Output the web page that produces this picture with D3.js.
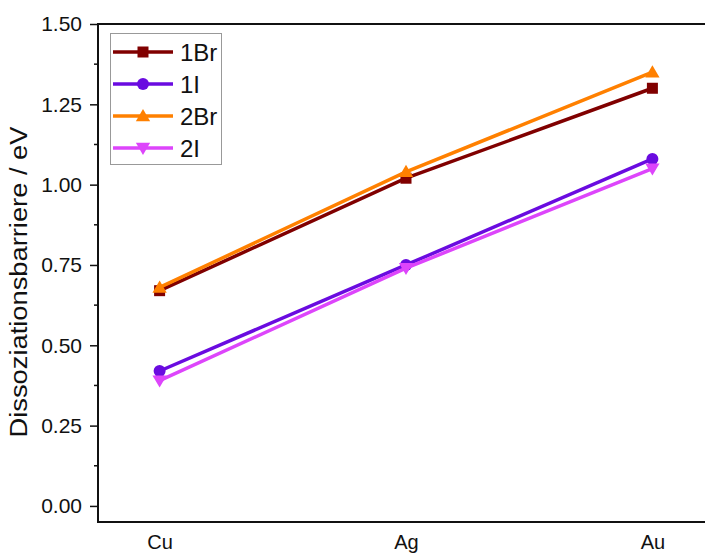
<!DOCTYPE html>
<html>
<head>
<meta charset="utf-8">
<script src="https://cdn.jsdelivr.net/npm/d3@7"></script>
<style>
  body { margin: 0; background: #fff; overflow: hidden; }
  text { font-family: "Liberation Sans", Arial, sans-serif; fill: #111; }
</style>
</head>
<body>
<div></div>
<script>
var outerWidth  = 705;
var outerHeight = 553;
var margin = { left: 98, top: 24, right: -9, bottom: 31 };

var metals = ["Cu", "Ag", "Au"];
var seriesNames = ["1Br", "1I", "2Br", "2I"];
var values1Br = [0.67, 1.02, 1.30];
var values1I  = [0.42, 0.75, 1.08];
var values2Br = [0.68, 1.04, 1.35];
var values2I  = [0.39, 0.74, 1.05];
var yTicks = [0, 0.25, 0.5, 0.75, 1.0, 1.25, 1.5];
var yMinor = [0.125, 0.375, 0.625, 0.875, 1.125, 1.375];

var colors  = ["#800000", "#6a0be0", "#ff8000", "#dd45fb"];
var symbols = ["square", "circle", "up", "down"];
var allValues = [values1Br, values1I, values2Br, values2I];

var innerWidth  = outerWidth  - margin.left - margin.right;
var innerHeight = outerHeight - margin.top  - margin.bottom;

var svg = d3.select("div").append("svg")
  .attr("width",  outerWidth)
  .attr("height", outerHeight)
  .style("display", "block");

var g = svg.append("g")
  .attr("transform", "translate(" + margin.left + "," + margin.top + ")");

var xScale = d3.scalePoint().domain(metals).range([0, innerWidth]).padding(0.25);
var yScale = d3.scaleLinear().domain([-0.05, 1.5]).range([innerHeight, 0]);

// axes
var yAxis = d3.axisLeft(yScale).tickValues(yTicks)
  .tickFormat(d3.format(".2f")).tickSize(8).tickPadding(8);
var yg = g.append("g").call(yAxis);
yg.select(".domain").remove();
yg.selectAll("line").attr("stroke", "#111").attr("stroke-width", 1.5);
yg.selectAll("text").style("font-size", "21px").style("font-family", "Liberation Sans, Arial");

g.selectAll(".minor").data(yMinor).enter().append("line")
  .attr("x1", -4).attr("x2", 0)
  .attr("y1", function (d){ return yScale(d); })
  .attr("y2", function (d){ return yScale(d); })
  .attr("stroke", "#111").attr("stroke-width", 1.5);

var xAxis = d3.axisBottom(xScale).tickSize(0).tickPadding(13);
var xg = g.append("g").attr("transform", "translate(0," + innerHeight + ")").call(xAxis);
xg.select(".domain").remove();
xg.selectAll("text").style("font-size", "20px").style("font-family", "Liberation Sans, Arial");

// frame
g.append("rect")
  .attr("x", 0).attr("y", 0)
  .attr("width", innerWidth).attr("height", innerHeight)
  .attr("fill", "none").attr("stroke", "#111").attr("stroke-width", 2);

// y label
svg.append("text")
  .attr("transform", "translate(27,282) rotate(-90)")
  .attr("text-anchor", "middle")
  .attr("textLength", 311)
  .attr("lengthAdjust", "spacingAndGlyphs")
  .style("font-size", "23px")
  .text("Dissoziationsbarriere / eV");

function drawMarker(sel, type, color, size){
  if (type === "square") {
    sel.append("rect").attr("x", -size / 2).attr("y", -size / 2)
      .attr("width", size).attr("height", size).attr("fill", color);
  } else if (type === "circle") {
    sel.append("circle").attr("r", size / 2 + 0.5).attr("fill", color);
  } else {
    var s = type === "up" ? -1 : 1;
    var h = size * 1.05;
    sel.append("path")
      .attr("d", "M0," + (s * h * 0.6) + "L" + (-size * 0.65) + "," + (-s * h * 0.45) +
                 "L" + (size * 0.65) + "," + (-s * h * 0.45) + "Z")
      .attr("fill", color);
  }
}

var line = d3.line()
  .x(function (d, i){ return xScale(metals[i]); })
  .y(function (d){ return yScale(d); });

allValues.forEach(function (vals, k){
  g.append("path").datum(vals)
    .attr("d", line)
    .attr("fill", "none")
    .attr("stroke", colors[k])
    .attr("stroke-width", 3.5);
  vals.forEach(function (v, i){
    var m = g.append("g")
      .attr("transform", "translate(" + xScale(metals[i]) + "," + yScale(v) + ")");
    drawMarker(m, symbols[k], colors[k], 11);
  });
});

// legend
var legend = svg.append("g").attr("transform", "translate(110.5,33.5)");
legend.append("rect")
  .attr("width", 111).attr("height", 131)
  .attr("fill", "#fff").attr("stroke", "#999").attr("stroke-width", 1);

seriesNames.forEach(function (name, k){
  var row = legend.append("g").attr("transform", "translate(0," + (18.5 + k * 32) + ")");
  row.append("line").attr("x1", 2.5).attr("x2", 62.5)
    .attr("stroke", colors[k]).attr("stroke-width", 3.5);
  var m = row.append("g").attr("transform", "translate(32.5,0)");
  drawMarker(m, symbols[k], colors[k], 11);
  row.append("text").attr("x", 69.5).attr("y", 9)
    .style("font-size", "24px").text(name);
});
</script>
</body>
</html>
